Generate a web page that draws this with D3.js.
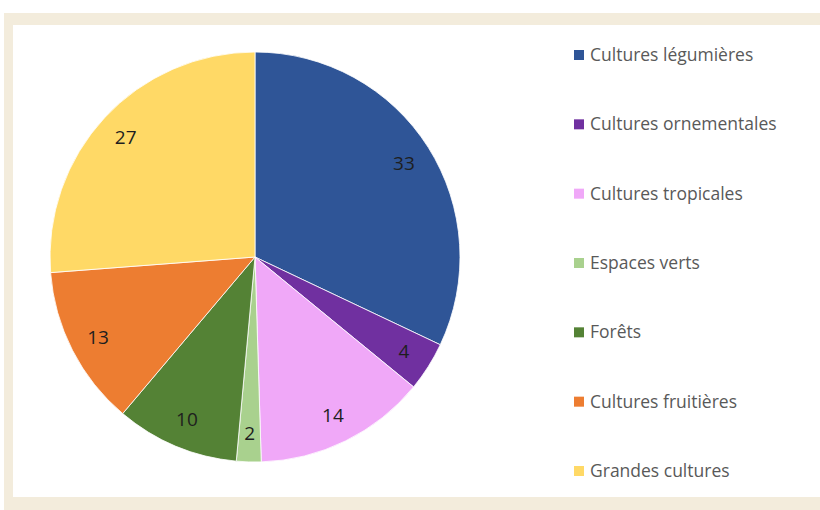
<!DOCTYPE html>
<html>
<head>
<meta charset="utf-8">
<script src="https://cdn.jsdelivr.net/npm/d3@7"></script>
<style>
  body { margin: 0; background: #ffffff; }
  svg { display: block; }
</style>
</head>
<body>
<div id="chart"></div>
<script>
// categories and values
var categories = [
    "Cultures légumières",
    "Cultures ornementales",
    "Cultures tropicales",
    "Espaces verts",
    "Forêts",
    "Cultures fruitières",
    "Grandes cultures"
];
var values = [33, 4, 14, 2, 10, 13, 27];
var colors = ["#2f5597", "#7030a0", "#f0a8f8", "#a9d18e", "#548235", "#ed7d31", "#ffd966"];

var width = 820, height = 510;

var svg = d3.select("#chart").append("svg")
    .attr("width", width)
    .attr("height", height);

// beige frame (top, left, bottom)
svg.append("rect")
    .attr("x", 4).attr("y", 13)
    .attr("width", width - 4).attr("height", height - 13)
    .style("fill", "#f3ecdc");
svg.append("rect")
    .attr("x", 13).attr("y", 25)
    .attr("width", width - 13).attr("height", 472)
    .style("fill", "#ffffff");

/////////////////////// pie ///////////////////////
var cx = 255, cy = 257, radius = 205;

var pie = d3.pie().sort(null).value(function (d) { return d.value; });
var data = categories.map(function (c, i) {
    return { name: c, value: values[i], color: colors[i] };
});

var arc = d3.arc().innerRadius(0).outerRadius(radius);
var labelArc = d3.arc().innerRadius(radius * 0.86).outerRadius(radius * 0.86);

var g = svg.append("g").attr("transform", "translate(" + cx + "," + cy + ")");

g.selectAll("path")
    .data(pie(data))
    .enter()
    .append("path")
    .attr("d", arc)
    .style("fill", function (d) { return d.data.color; })
    .style("stroke", "#ffffff")
    .style("stroke-width", 0.8);

g.selectAll("text")
    .data(pie(data))
    .enter()
    .append("text")
    .attr("transform", function (d) { return "translate(" + labelArc.centroid(d) + ")"; })
    .attr("text-anchor", "middle")
    .attr("dy", "0.36em")
    .style("font-family", "'Open Sans', 'Noto Sans', sans-serif")
    .style("font-size", "19px")
    .style("fill", "#1e1e1e")
    .text(function (d) { return d.data.value; });

/////////////////////// legend ///////////////////////
var legendY = d3.scalePoint()
    .domain(categories)
    .range([55, 471]);

var legend = svg.selectAll(".legend")
    .data(data)
    .enter()
    .append("g")
    .attr("class", "legend")
    .attr("transform", function (d) { return "translate(574," + legendY(d.name) + ")"; });

legend.append("rect")
    .attr("x", 0).attr("y", -5)
    .attr("width", 10).attr("height", 10)
    .style("fill", function (d) { return d.color; });

legend.append("text")
    .attr("x", 16)
    .attr("dy", "0.35em")
    .style("font-family", "'Open Sans', 'Noto Sans', sans-serif")
    .style("font-size", "17.5px")
    .style("fill", "#595959")
    .text(function (d) { return d.name; });
</script>
</body>
</html>
